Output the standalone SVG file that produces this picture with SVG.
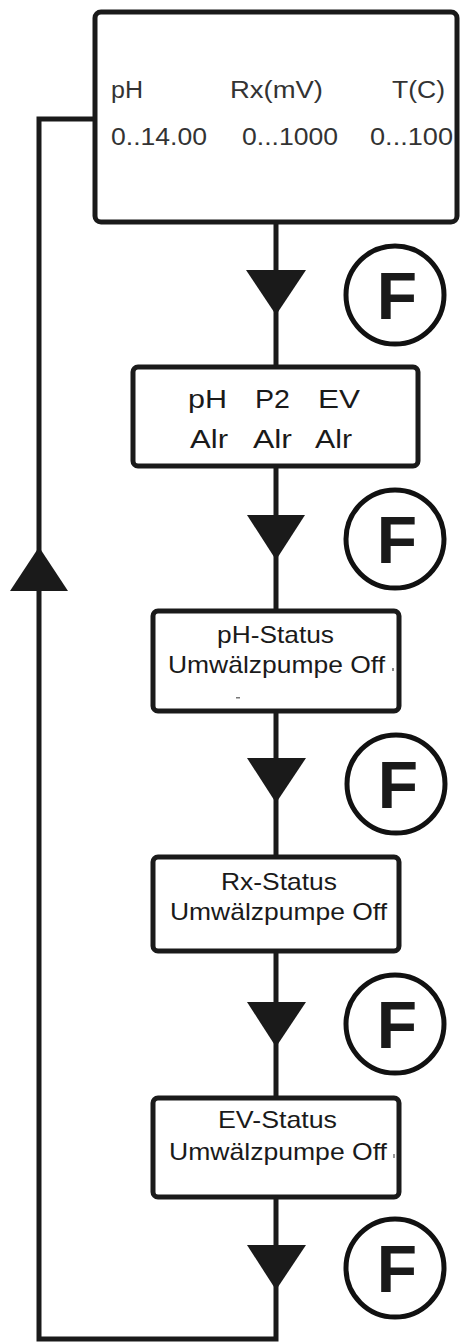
<svg xmlns="http://www.w3.org/2000/svg" width="460" height="1342" viewBox="0 0 460 1342">
  <style>
    .box { fill: #fff; stroke: #1a1a1a; stroke-width: 5; }
    .wire { fill: none; stroke: #1a1a1a; stroke-width: 5; stroke-linejoin: miter; }
    .head { fill: #1a1a1a; }
    .key { fill: #fff; stroke: #111; stroke-width: 5; }
    .keyt { font-family: "Liberation Sans", Arial, sans-serif; font-weight: bold; font-size: 66px; fill: #1a1a1a; text-anchor: middle; }
    .disp { font-family: "Liberation Sans", Arial, sans-serif; font-size: 23px; fill: #333; }
    .alr { font-family: "Liberation Sans", Arial, sans-serif; font-size: 25px; fill: #1a1a1a; }
    .stat { font-family: "Liberation Sans", Arial, sans-serif; font-size: 24px; fill: #1a1a1a; }
  </style>
  <rect width="460" height="1342" fill="#fff"/>

  <!-- connectors -->
  <g id="connectors">
    <path class="wire" d="M276 222 V367"/>
    <path class="wire" d="M276 466 V611"/>
    <path class="wire" d="M276 711 V857"/>
    <path class="wire" d="M276 951 V1098"/>
    <path class="wire" d="M276 1197 V1339 H39 V119 H95"/>
    <polygon class="head" points="246,270 306,270 276,315"/>
    <polygon class="head" points="247,515 305,515 276,560"/>
    <polygon class="head" points="247,758 306,758 276,803"/>
    <polygon class="head" points="247,1002 306,1002 276,1047"/>
    <polygon class="head" points="247,1245 306,1245 276,1290"/>
    <polygon class="head" points="39,547 68,591 10,591"/>
  </g>

  <!-- F key symbols -->
  <g id="key-f1"><circle class="key" cx="395" cy="295" r="49"/><text class="keyt" x="397" y="319">F</text></g>
  <g id="key-f2"><circle class="key" cx="395" cy="539" r="49"/><text class="keyt" x="397" y="563">F</text></g>
  <g id="key-f3"><circle class="key" cx="396" cy="784" r="49"/><text class="keyt" x="398" y="808">F</text></g>
  <g id="key-f4"><circle class="key" cx="395" cy="1024" r="49"/><text class="keyt" x="397" y="1048">F</text></g>
  <g id="key-f5"><circle class="key" cx="395" cy="1268" r="49"/><text class="keyt" x="397" y="1292">F</text></g>

  <!-- main display -->
  <g id="node-display">
    <rect class="box" x="95" y="12" width="362" height="210" rx="6"/>
    <text class="disp" x="111" y="98" textLength="32" lengthAdjust="spacingAndGlyphs">pH</text>
    <text class="disp" x="230" y="98" textLength="93" lengthAdjust="spacingAndGlyphs">Rx(mV)</text>
    <text class="disp" x="392" y="98" textLength="53" lengthAdjust="spacingAndGlyphs">T(C)</text>
    <text class="disp" x="111" y="145" textLength="96" lengthAdjust="spacingAndGlyphs">0..14.00</text>
    <text class="disp" x="242" y="145" textLength="96" lengthAdjust="spacingAndGlyphs">0...1000</text>
    <text class="disp" x="370" y="145" textLength="83" lengthAdjust="spacingAndGlyphs">0...100</text>
  </g>

  <!-- alarm display -->
  <g id="node-alarm">
    <rect class="box" x="133" y="367" width="285" height="99" rx="5"/>
    <text class="alr" x="188" y="408" textLength="39" lengthAdjust="spacingAndGlyphs">pH</text>
    <text class="alr" x="255" y="408" textLength="35" lengthAdjust="spacingAndGlyphs">P2</text>
    <text class="alr" x="318" y="408" textLength="42" lengthAdjust="spacingAndGlyphs">EV</text>
    <text class="alr" x="190" y="448" textLength="38" lengthAdjust="spacingAndGlyphs">Alr</text>
    <text class="alr" x="253" y="448" textLength="39" lengthAdjust="spacingAndGlyphs">Alr</text>
    <text class="alr" x="315" y="448" textLength="37" lengthAdjust="spacingAndGlyphs">Alr</text>
  </g>

  <!-- pH status -->
  <g id="node-ph-status">
    <rect class="box" x="153" y="611" width="246" height="100" rx="5"/>
    <text class="stat" x="217" y="643" textLength="117" lengthAdjust="spacingAndGlyphs">pH-Status</text>
    <text class="stat" x="168" y="673" textLength="217" lengthAdjust="spacingAndGlyphs">Umwälzpumpe Off</text>
    <rect x="392" y="668" width="2" height="3" fill="#888"/>
    <rect x="236" y="697" width="4" height="1.5" fill="#777"/>
  </g>

  <!-- Rx status -->
  <g id="node-rx-status">
    <rect class="box" x="153" y="857" width="246" height="94" rx="5"/>
    <text class="stat" x="221" y="890" textLength="116" lengthAdjust="spacingAndGlyphs">Rx-Status</text>
    <text class="stat" x="170" y="920" textLength="217" lengthAdjust="spacingAndGlyphs">Umwälzpumpe Off</text>
  </g>

  <!-- EV status -->
  <g id="node-ev-status">
    <rect class="box" x="153" y="1098" width="246" height="99" rx="5"/>
    <text class="stat" x="218" y="1128" textLength="119" lengthAdjust="spacingAndGlyphs">EV-Status</text>
    <text class="stat" x="169" y="1160" textLength="218" lengthAdjust="spacingAndGlyphs">Umwälzpumpe Off</text>
    <rect x="393" y="1154" width="2" height="4" fill="#999"/>
  </g>
</svg>
